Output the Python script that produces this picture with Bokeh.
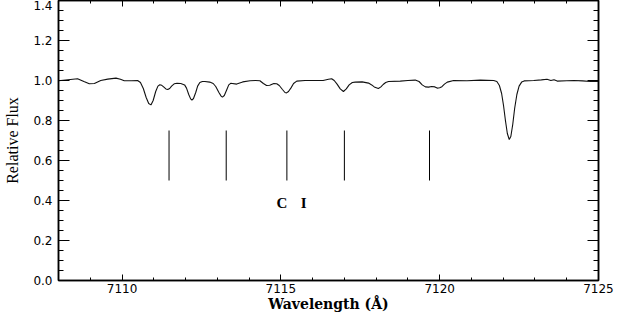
from bokeh.plotting import figure
from bokeh.models import (LinearAxis, FixedTicker, ColumnDataSource, Range1d,
                          PrintfTickFormatter, CustomJSTickFormatter)
from bokeh.core.properties import value
from bokeh.embed import file_html
from bokeh.resources import INLINE

# Spectrum (wavelength in Angstrom, relative flux)
wavelength = [7108.00, 7108.30, 7108.60, 7108.80, 7108.97, 7109.13, 7109.33, 7109.55,
              7109.81, 7109.95, 7110.07, 7110.30, 7110.49, 7110.58, 7110.67, 7110.76,
              7110.84, 7110.91, 7110.98, 7111.06, 7111.13, 7111.19, 7111.25, 7111.31,
              7111.38, 7111.44, 7111.50, 7111.56, 7111.65, 7111.73, 7111.85, 7111.97,
              7112.03, 7112.10, 7112.16, 7112.20, 7112.25, 7112.32, 7112.38, 7112.45,
              7112.53, 7112.61, 7112.76, 7112.87, 7112.95, 7113.05, 7113.12, 7113.16,
              7113.22, 7113.30, 7113.36, 7113.42, 7113.61, 7113.80, 7114.03, 7114.20,
              7114.34, 7114.45, 7114.55, 7114.65, 7114.78, 7114.87, 7114.95, 7115.05,
              7115.13, 7115.18, 7115.24, 7115.32, 7115.40, 7115.50, 7115.76, 7116.02,
              7116.33, 7116.50, 7116.60, 7116.68, 7116.77, 7116.87, 7116.97, 7117.06,
              7117.15, 7117.25, 7117.34, 7117.56, 7117.76, 7117.86, 7117.94, 7118.07,
              7118.15, 7118.22, 7118.30, 7118.39, 7118.76, 7119.00, 7119.23, 7119.35,
              7119.45, 7119.55, 7119.65, 7119.75, 7119.85, 7119.92, 7120.00, 7120.07,
              7120.15, 7120.24, 7120.44, 7120.86, 7121.28, 7121.70, 7121.80, 7121.88,
              7121.95, 7122.01, 7122.07, 7122.13, 7122.19, 7122.24, 7122.30, 7122.36,
              7122.43, 7122.50, 7122.58, 7122.66, 7122.96, 7123.20, 7123.38, 7123.50,
              7123.60, 7123.70, 7124.00, 7124.22, 7124.50, 7124.75, 7125.00]
flux = [0.999, 1.004, 1.009, 0.995, 0.984, 0.985, 1.000, 1.007,
        1.012, 1.006, 0.999, 0.999, 1.000, 0.990, 0.960, 0.915,
        0.885, 0.878, 0.900, 0.945, 0.972, 0.979, 0.976, 0.968,
        0.958, 0.955, 0.960, 0.972, 0.984, 0.986, 0.985, 0.978,
        0.962, 0.930, 0.908, 0.902, 0.910, 0.940, 0.972, 0.990,
        0.995, 0.995, 0.992, 0.985, 0.970, 0.940, 0.922, 0.917,
        0.925, 0.955, 0.978, 0.986, 0.982, 0.993, 0.999, 1.000,
        0.999, 0.985, 0.975, 0.976, 0.985, 0.984, 0.975, 0.955,
        0.940, 0.938, 0.945, 0.963, 0.985, 0.997, 1.000, 1.000,
        1.000, 1.006, 1.009, 1.000, 0.982, 0.958, 0.945, 0.958,
        0.978, 0.990, 0.992, 0.993, 0.987, 0.978, 0.968, 0.960,
        0.968, 0.980, 0.990, 0.995, 0.997, 1.000, 1.002, 0.995,
        0.978, 0.968, 0.967, 0.970, 0.968, 0.962, 0.964, 0.969,
        0.982, 0.992, 1.000, 0.999, 1.002, 1.000, 0.995, 0.975,
        0.935, 0.875, 0.800, 0.735, 0.705, 0.720, 0.780, 0.860,
        0.930, 0.972, 0.992, 0.998, 1.000, 1.003, 1.006, 1.000,
        1.004, 0.997, 0.999, 1.000, 0.998, 0.995, 0.995]

# C I line markers
ci_lines = [7111.48, 7113.28, 7115.19, 7117.00, 7119.68]
marker_bottom = [0.50] * len(ci_lines)
marker_top = [0.75] * len(ci_lines)

# Ion label
ion_text = ["C", "I"]
ion_x = [7115.03, 7115.72]
ion_y = [0.386, 0.386]

# Ticks
x_major_ticks = [7110, 7115, 7120, 7125]
x_minor_ticks = list(range(7108, 7126))
y_major_ticks = [0.0, 0.2, 0.4, 0.6, 0.8, 1.0, 1.2, 1.4]
y_minor_ticks = [round(i * 0.05, 2) for i in range(29)]

p = figure(width=617, height=314, x_range=Range1d(7108, 7125), y_range=Range1d(0, 1.4),
           output_backend="svg", toolbar_location=None,
           min_border_left=58, min_border_right=19, min_border_top=0, min_border_bottom=34)

p.xgrid.grid_line_color = None
p.ygrid.grid_line_color = None
p.outline_line_color = "black"
p.outline_line_width = 1.5
p.background_fill_color = "white"
p.border_fill_color = "white"

blank = CustomJSTickFormatter(code="return ''")

def style_x(ax, labels=True):
    ax.ticker = FixedTicker(ticks=x_major_ticks, minor_ticks=x_minor_ticks)
    ax.major_tick_in = 6
    ax.major_tick_out = 0
    ax.minor_tick_in = 3
    ax.minor_tick_out = 0
    ax.axis_line_color = "black"
    ax.axis_line_width = 1.5
    ax.major_tick_line_color = "black"
    ax.minor_tick_line_color = "black"
    ax.major_label_text_font = "DejaVu Sans"
    ax.major_label_text_font_size = "12px"
    ax.major_label_text_color = "black"
    ax.major_label_standoff = 3 if labels else 0
    if not labels:
        ax.formatter = blank

def style_y(ax, labels=True):
    ax.ticker = FixedTicker(ticks=y_major_ticks, minor_ticks=y_minor_ticks)
    ax.major_tick_in = 11
    ax.major_tick_out = 0
    ax.minor_tick_in = 5
    ax.minor_tick_out = 0
    ax.axis_line_color = "black"
    ax.axis_line_width = 1.5
    ax.major_tick_line_color = "black"
    ax.minor_tick_line_color = "black"
    ax.major_label_text_font = "DejaVu Sans"
    ax.major_label_text_font_size = "12px"
    ax.major_label_text_color = "black"
    ax.major_label_standoff = 6 if labels else 0
    if labels:
        ax.formatter = PrintfTickFormatter(format="%.1f")
    else:
        ax.formatter = blank

style_x(p.xaxis[0])
style_y(p.yaxis[0])
p.xaxis.axis_label = "Wavelength (Å)"
p.xaxis.axis_label_text_font = "DejaVu Serif"
p.xaxis.axis_label_text_font_style = "bold"
p.xaxis.axis_label_text_font_size = "14px"
p.xaxis.axis_label_text_color = "black"
p.xaxis.axis_label_standoff = 0
p.yaxis.axis_label = "Relative Flux"
p.yaxis.axis_label_text_font = "Liberation Serif"
p.yaxis.axis_label_text_font_style = "normal"
p.yaxis.axis_label_text_font_size = "16px"
p.yaxis.axis_label_text_color = "black"
p.yaxis.axis_label_standoff = 9

top = LinearAxis()
style_x(top, labels=False)
p.add_layout(top, "above")
right = LinearAxis()
style_y(right, labels=False)
p.add_layout(right, "right")

p.line(wavelength, flux, line_color="#111111", line_width=1.1)
p.segment(x0=ci_lines, y0=marker_bottom, x1=ci_lines, y1=marker_top,
          line_color="black", line_width=1)

src = ColumnDataSource(dict(x=ion_x, y=ion_y, t=ion_text))
p.text(x="x", y="y", text="t", source=src, text_font=value("Liberation Serif"),
       text_font_style="bold", text_font_size="15px", text_align="center",
       text_baseline="middle", text_color="black")

open("out.html", "w").write(file_html(p, INLINE))
